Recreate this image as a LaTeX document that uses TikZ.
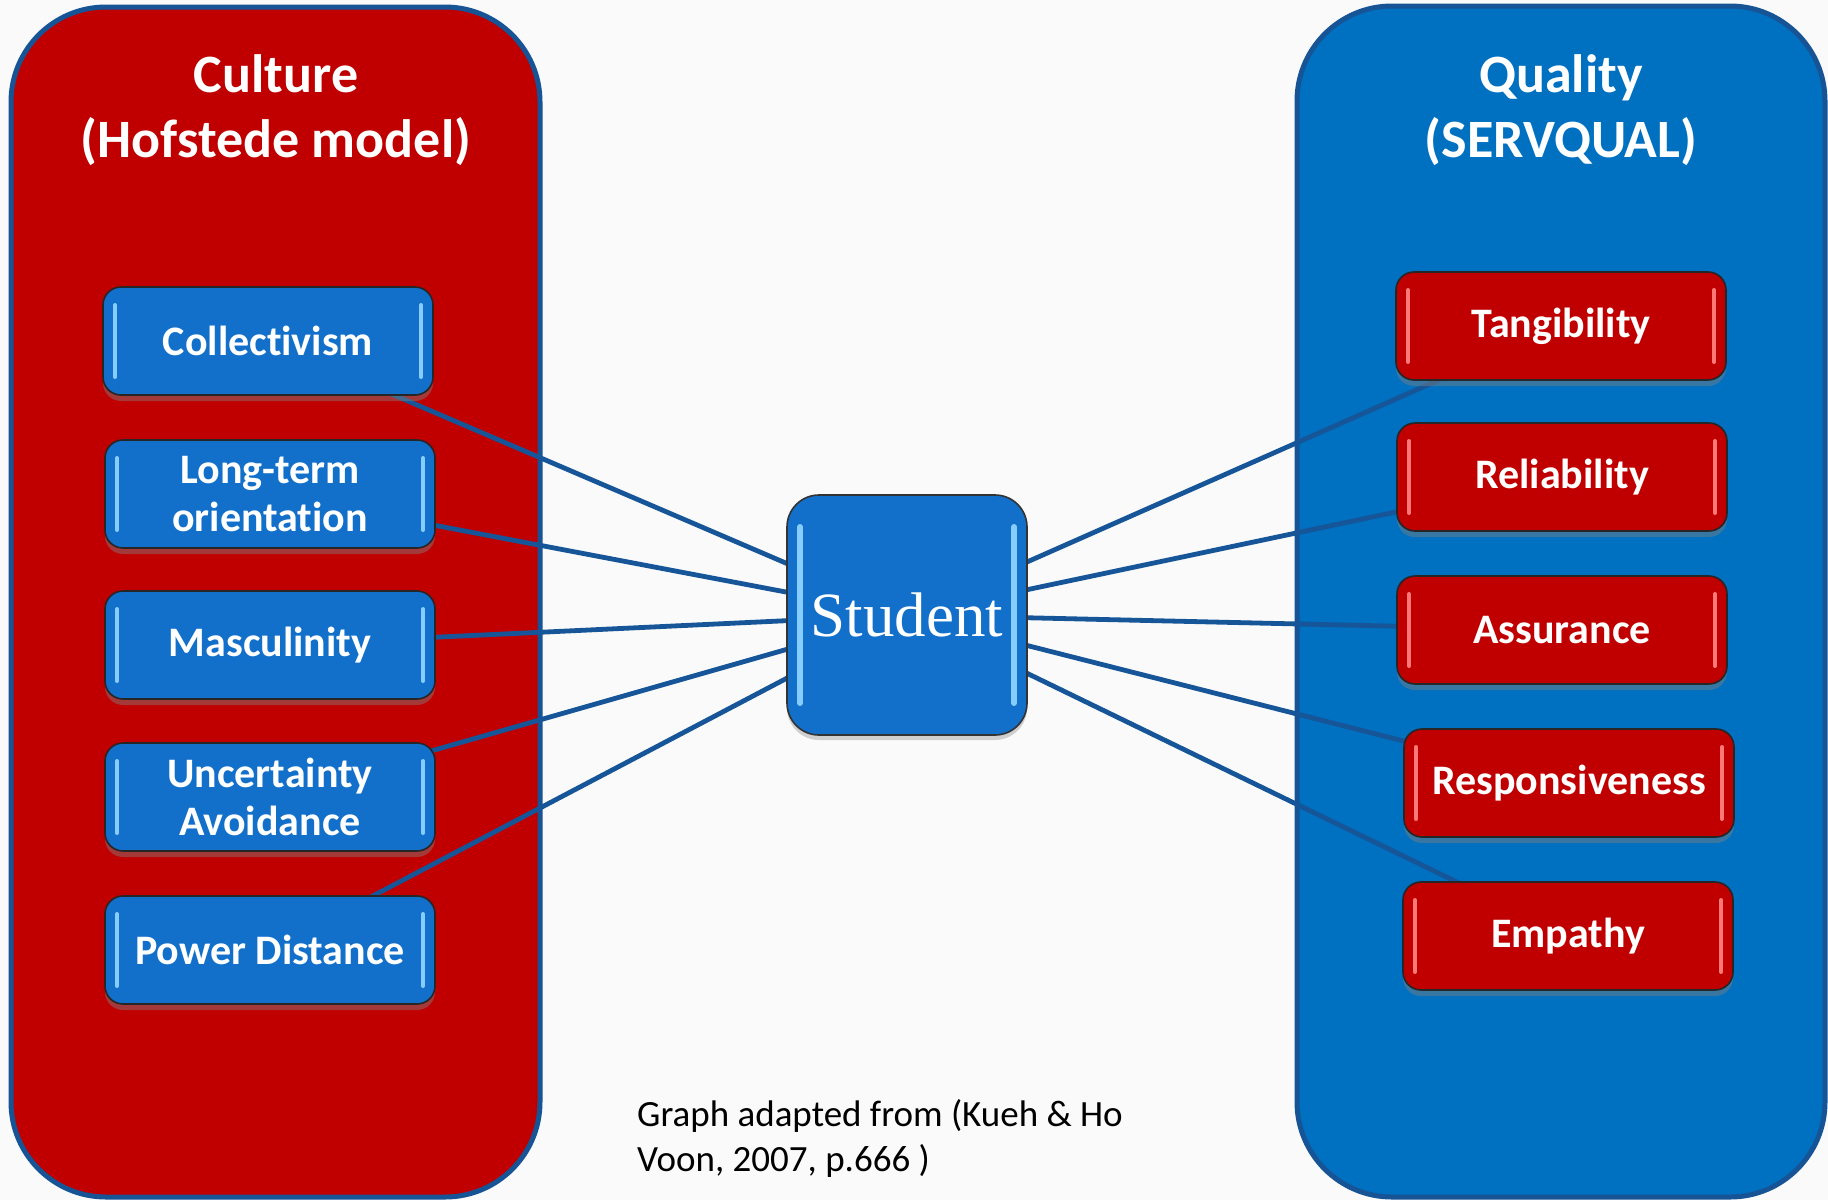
\documentclass[tikz,border=0pt]{standalone}
\usepackage{fontspec}
\setmainfont{Carlito}[Ligatures=NoCommon]
\newfontfamily\studentfont{Liberation Serif}
\usetikzlibrary{shadows}
\definecolor{panelred}{RGB}{192,0,0}
\definecolor{panelblue}{RGB}{0,112,192}
\definecolor{rimblue}{RGB}{22,84,150}
\definecolor{linkblue}{RGB}{22,86,152}
\definecolor{boxblue}{RGB}{18,112,202}
\definecolor{boxred}{RGB}{192,0,0}
\definecolor{hlblue}{RGB}{135,205,252}
\definecolor{hlred}{RGB}{255,120,120}
\definecolor{pagebg}{RGB}{250,250,250}
\pgfdeclarelayer{back}
\pgfdeclarelayer{mid}
\pgfsetlayers{back,mid,main}
\tikzset{
  panel/.style={draw=rimblue, line width=5pt, rounded corners=95pt},
  paneltitle/.style={text=white, align=center, inner sep=0pt, anchor=north,
    font=\bfseries\fontsize{54}{65}\selectfont},
  glossbox/.style 2 args={rounded corners=18pt, draw=black!85, line width=1.6pt,
    fill=#1, minimum width=330pt, minimum height=108pt, text=white, align=center,
    font=\bfseries\fontsize{42}{48}\selectfont,
    drop shadow={opacity=0.45, shadow xshift=0pt, shadow yshift=-6pt},
    path picture={
      \draw[#2, line width=4pt, line cap=round]
        ([xshift=12pt,yshift=-18pt]path picture bounding box.north west) --
        ([xshift=12pt,yshift=18pt]path picture bounding box.south west);
      \draw[#2, line width=4pt, line cap=round]
        ([xshift=-12pt,yshift=-18pt]path picture bounding box.north east) --
        ([xshift=-12pt,yshift=18pt]path picture bounding box.south east);
    }},
  bluebox/.style={glossbox={boxblue}{hlblue}},
  redbox/.style={glossbox={boxred}{hlred}},
  studentbox/.style={rounded corners=32pt, draw=black!80, line width=1.6pt,
    fill=boxblue, minimum width=240pt, minimum height=240pt, text=white,
    font=\studentfont\fontsize{63}{70}\selectfont,
    drop shadow={opacity=0.35, shadow xshift=0pt, shadow yshift=-5pt},
    path picture={
      \draw[hlblue, line width=6pt, line cap=round]
        ([xshift=13pt,yshift=-32pt]path picture bounding box.north west) --
        ([xshift=13pt,yshift=32pt]path picture bounding box.south west);
      \draw[hlblue, line width=6pt, line cap=round]
        ([xshift=-13pt,yshift=-32pt]path picture bounding box.north east) --
        ([xshift=-13pt,yshift=32pt]path picture bounding box.south east);
    }},
  link/.style={draw=linkblue, line width=4.8pt},
  caption/.style={text=black, align=left, inner sep=0pt, anchor=north west,
    font=\fontsize{37}{45}\selectfont},
}
\begin{document}
\begin{tikzpicture}[x=1pt,y=-1pt]
\useasboundingbox (0,0) rectangle (1828,1200);
\begin{pgfonlayer}{back}
  \fill[pagebg] (0,0) rectangle (1828,1200);
  \draw[panel, fill=panelred] (11,7) rectangle (540,1197);
  \draw[panel, fill=panelblue] (1297,6) rectangle (1825,1197);
\end{pgfonlayer}

\node[paneltitle] (culttitle) at (276,54) {Culture\\(Hofstede model)};
\node[paneltitle] (qualtitle) at (1561,54) {Quality\\(SERVQUAL)};

\node[bluebox] (coll) at (268,341) {Collectivism};
\node[bluebox] (long) at (270,494) {Long-term\\orientation};
\node[bluebox] (masc) at (270,645) {Masculinity};
\node[bluebox] (unc) at (270,797) {Uncertainty\\Avoidance};
\node[bluebox] (pow) at (270,950) {Power Distance};

\node[studentbox] (stud) at (907,615) {Student};

\node[redbox] (tang) at (1561,326) {Tangibility};
\node[redbox] (rel) at (1562,477) {Reliability};
\node[redbox] (ass) at (1562,630) {Assurance};
\node[redbox] (resp) at (1569,783) {Responsiveness};
\node[redbox] (emp) at (1568,936) {Empathy};

\begin{pgfonlayer}{mid}
  \foreach \n in {coll,long,masc,unc,pow,tang,rel,ass,resp,emp}
    \draw[link] (\n.center) -- (stud.center);
\end{pgfonlayer}

\node[caption] (cap) at (637,1099) {Graph adapted from (Kueh \& Ho\\Voon, 2007, p.666 )};
\end{tikzpicture}
\end{document}
